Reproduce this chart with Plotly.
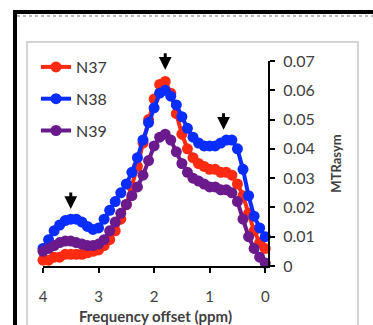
import plotly.graph_objects as go

ppm = [4.0, 3.9, 3.8, 3.7, 3.6, 3.5, 3.4, 3.3, 3.2, 3.1, 3.0, 2.9, 2.8, 2.7, 2.6, 2.5, 2.4, 2.3, 2.2, 2.1,
       2.0, 1.9, 1.8, 1.7, 1.6, 1.5, 1.4, 1.3, 1.2, 1.1, 1.0, 0.9, 0.8, 0.7, 0.6, 0.5, 0.4, 0.3, 0.2, 0.1, 0.0]
n37 = [0.002, 0.002, 0.003, 0.003, 0.004, 0.004, 0.004, 0.004, 0.0045, 0.005, 0.0055, 0.007, 0.009, 0.012,
       0.016, 0.021, 0.027, 0.034, 0.042, 0.050, 0.057, 0.062, 0.063, 0.059, 0.052, 0.045, 0.040, 0.037,
       0.035, 0.034, 0.033, 0.033, 0.032, 0.032, 0.031, 0.028, 0.024, 0.018, 0.012, 0.008, 0.006]
n38 = [0.006, 0.009, 0.012, 0.014, 0.0155, 0.016, 0.016, 0.015, 0.0135, 0.0125, 0.013, 0.016, 0.019, 0.022,
       0.025, 0.028, 0.032, 0.037, 0.043, 0.049, 0.054, 0.059, 0.060, 0.058, 0.055, 0.051, 0.047, 0.044,
       0.042, 0.041, 0.041, 0.041, 0.042, 0.043, 0.043, 0.040, 0.033, 0.024, 0.017, 0.013, 0.010]
n39 = [0.005, 0.006, 0.007, 0.008, 0.0085, 0.0085, 0.008, 0.0075, 0.007, 0.007, 0.0075, 0.009, 0.012, 0.015,
       0.018, 0.021, 0.024, 0.027, 0.031, 0.036, 0.041, 0.044, 0.045, 0.043, 0.039, 0.035, 0.032, 0.030,
       0.029, 0.028, 0.027, 0.027, 0.026, 0.026, 0.025, 0.022, 0.016, 0.010, 0.006, 0.003, 0.001]

series_names = ["N37", "N38", "N39"]
series_colors = ["#ff2a12", "#0a2dff", "#6a1a8c"]
arrow_x = [1.8, 0.75, 3.5]
arrow_y = [0.067, 0.0465, 0.0195]
y_ticks = [0, 0.01, 0.02, 0.03, 0.04, 0.05, 0.06, 0.07]
y_ticklabels = ["0", "0.01", "0.02", "0.03", "0.04", "0.05", "0.06", "0.07"]
x_ticks = [4, 3, 2, 1, 0]

W, H = 373, 325
L, R, T, B = 43, 268, 61, 266

fig = go.Figure()
for name, vals, col in zip(series_names, [n37, n38, n39], series_colors):
    fig.add_trace(go.Scatter(
        x=ppm, y=vals, name=name, mode="lines+markers",
        line=dict(color=col, width=4),
        marker=dict(color=col, size=11),
        cliponaxis=False, legendgroup=name,
    ))

for ax_, ay_ in zip(arrow_x, arrow_y):
    fig.add_annotation(x=ax_, y=ay_, ax=0, ay=-18, xref="x", yref="y", text="",
                       showarrow=True, arrowhead=2, arrowsize=0.85, arrowwidth=3, arrowcolor="black")

def px(x):
    return (x - L) / (R - L)

def py(y):
    return (B - y) / (B - T)

shapes = [
    dict(type="line", xref="paper", yref="paper", x0=px(13), x1=px(400), y0=py(12), y1=py(12),
         line=dict(color="black", width=4)),
    dict(type="line", xref="paper", yref="paper", x0=px(15), x1=px(15), y0=py(10), y1=py(340),
         line=dict(color="black", width=4)),
    dict(type="line", xref="paper", yref="paper", x0=px(17), x1=px(400), y0=py(16), y1=py(16),
         line=dict(color="#b8b8b8", width=2, dash="dot")),
    dict(type="rect", xref="paper", yref="paper", x0=px(27), x1=px(358), y0=py(42), y1=py(340),
         line=dict(color="#d4d4d4", width=2), layer="below"),
]

fig.update_layout(
    width=W, height=H,
    margin=dict(l=L, r=W - R, t=T, b=H - B, autoexpand=False),
    paper_bgcolor="white", plot_bgcolor="white",
    font=dict(family="Lato, Open Sans, sans-serif", color="#404040", size=13),
    shapes=shapes,
    showlegend=True,
    legend=dict(x=px(36), y=py(50), xanchor="left", yanchor="top",
                bgcolor="rgba(0,0,0,0)", font=dict(size=16, color="#383838"),
                itemwidth=30, tracegroupgap=8, traceorder="grouped"),
    xaxis=dict(range=[4, -0.05], tickvals=x_ticks, ticktext=[str(v) for v in x_ticks],
               showgrid=False, zeroline=False, showline=True, linecolor="black", linewidth=2,
               ticks="outside", ticklen=5, tickwidth=2, tickcolor="black", ticklabelstandoff=11,
               tickfont=dict(size=15, color="#404040"), automargin=False,
               title=dict(text="<b>Frequency offset (ppm)</b>", font=dict(size=15, color="#404040"), standoff=8)),
    yaxis=dict(range=[0, 0.07], side="right", tickvals=y_ticks, ticktext=y_ticklabels,
               showgrid=False, zeroline=False, showline=True, linecolor="black", linewidth=2,
               ticks="outside", ticklen=5, tickwidth=2, tickcolor="black", ticklabelstandoff=5,
               tickfont=dict(size=16, color="#404040"), automargin=False,
               title=dict(text="<b>MTRasym</b>", font=dict(size=13, color="#404040"), standoff=18)),
)

fig.write_html("out.html", config={"displayModeBar": False},
               post_script="document.body.style.margin='0';document.body.style.padding='0';")
